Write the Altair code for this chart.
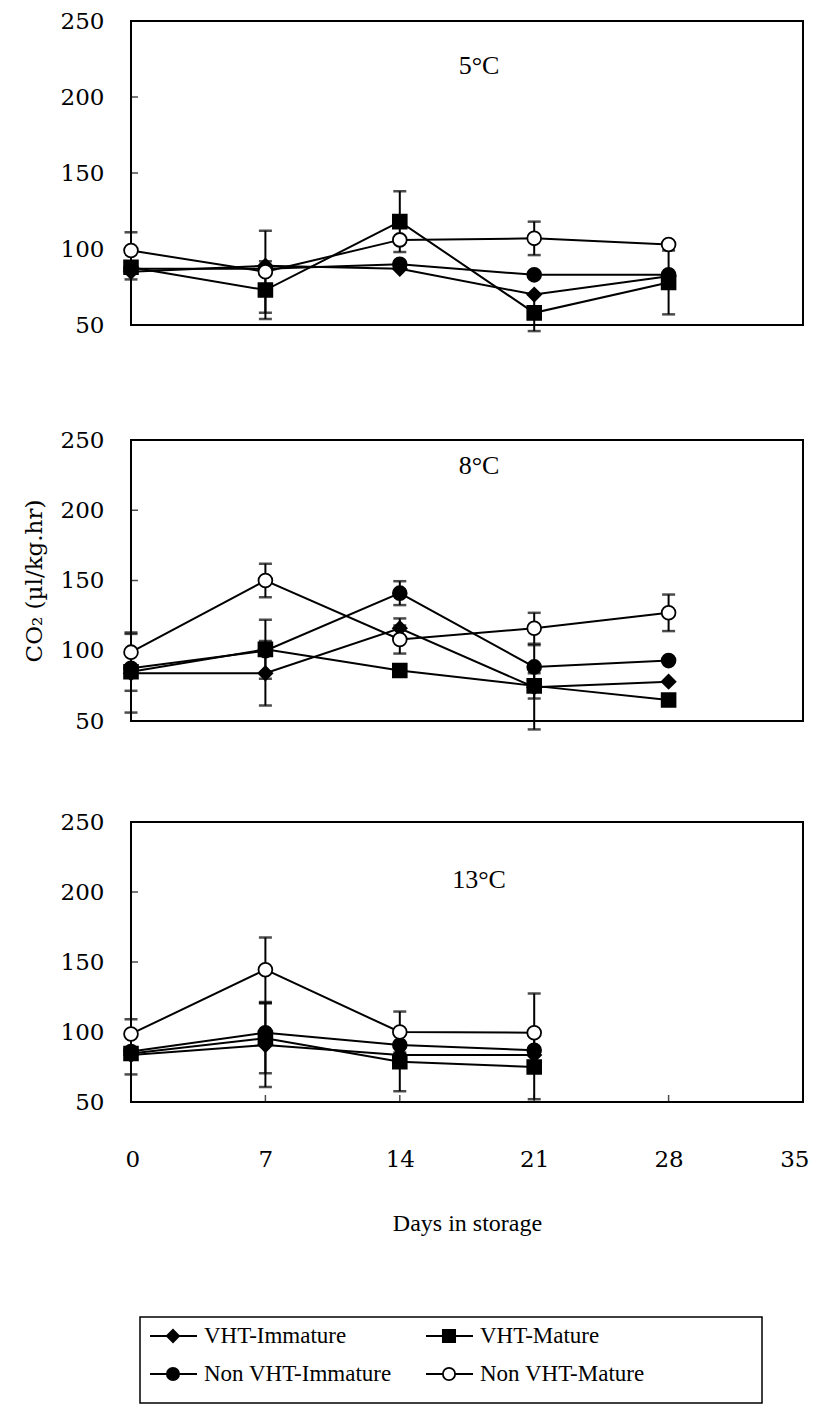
import altair as alt
import pandas as pd

# ---------------- data ----------------
days = [0, 7, 14, 21, 28]
x_ticks = [0, 7, 14, 21, 28, 35]
y_ticks = [50, 100, 150, 200, 250]
inner_y_ticks = [100, 150, 200]
inner_x_ticks = [7, 14, 21, 28]
series = ["VHT-Immature", "VHT-Mature", "Non VHT-Immature", "Non VHT-Mature"]
temps = ["5°C", "8°C", "13°C"]
shapes = ["diamond", "square", "circle", "circle"]
fills = ["black", "black", "black", "white"]

# 5 °C  (means, then SD)
vi_5 = [85, 89, 87, 70, 82]
vm_5 = [88, 73, 118, 58, 78]
ni_5 = [87, 87, 90, 83, 83]
nm_5 = [99, 85, 106, 107, 103]
vi_5_sd = [5, 0, 0, 0, 0]
vm_5_sd = [0, 19, 20, 12, 21]
ni_5_sd = [0, 0, 0, 0, 0]
nm_5_sd = [12, 27, 0, 11, 0]

# 8 °C
vi_8 = [84, 84, 116, 74, 78]
vm_8 = [85, 101, 86, 75, 65]
ni_8 = [87.5, 100, 141, 88.5, 93]
nm_8 = [99, 150, 108, 116, 127]
vi_8_sd = [28, 23, 7, 30, 0]
vm_8_sd = [13.5, 21, 0, 9, 0]
ni_8_sd = [0, 0, 8.5, 0, 0]
nm_8_sd = [14, 12, 10, 11, 13]

# 13 °C (days 0-21)
vi_13 = [83.5, 90.7, 83.5, 83.5]
vm_13 = [84.7, 95.5, 78.7, 75]
ni_13 = [86, 99.5, 90.7, 87]
nm_13 = [98.6, 144.5, 100, 99.5]
vi_13_sd = [0, 30, 0, 0]
vm_13_sd = [15, 25, 21, 23]
ni_13_sd = [0, 0, 0, 0]
nm_13_sd = [10.5, 23, 14.6, 28]

panel_means = {
    "5°C": [vi_5, vm_5, ni_5, nm_5],
    "8°C": [vi_8, vm_8, ni_8, nm_8],
    "13°C": [vi_13, vm_13, ni_13, nm_13],
}
panel_sds = {
    "5°C": [vi_5_sd, vm_5_sd, ni_5_sd, nm_5_sd],
    "8°C": [vi_8_sd, vm_8_sd, ni_8_sd, nm_8_sd],
    "13°C": [vi_13_sd, vm_13_sd, ni_13_sd, nm_13_sd],
}

rows = []
for t in temps:
    for s, mvals, svals in zip(series, panel_means[t], panel_sds[t]):
        for d, m, sd in zip(days, mvals, svals):
            rows.append({"temp": t, "series": s, "day": d, "value": m, "sd": sd,
                         "lo": m - sd, "hi": m + sd})
df = pd.DataFrame(rows)

# ---------------- layout / style ----------------
W = 672
plot_h = [304, 281, 280]
view_h = [318, 281, 280]
label_pos = [45, 26, 58]
SERIF_NUM = "DejaVu Serif"
SERIF_TXT = "Liberation Serif"

shape_scale = alt.Scale(domain=series, range=shapes)
fill_scale = alt.Scale(domain=series, range=fills)


def panel(i):
    t = temps[i]
    d = df[df.temp == t]
    err = d[d.sd > 0]
    caps = pd.concat([
        err[["series", "day", "lo"]].rename(columns={"lo": "v"}),
        err[["series", "day", "hi"]].rename(columns={"hi": "v"}),
    ])
    ph = plot_h[i]
    xs = alt.Scale(domain=[0, 35], nice=False)
    ys = alt.Scale(domain=[50, 250], range=[ph, 0], nice=False)
    if i == 2:
        x_axis = alt.Axis(values=x_ticks, labelFont=SERIF_NUM, labelFontSize=23,
                          labelColor="black", labelPadding=46, labelFlush=True,
                          labelFlushOffset=6,
                          ticks=False, domain=False, grid=False,
                          title="Days in storage",
                          titleFont=SERIF_TXT, titleFontSize=24,
                          titleFontWeight="normal", titleColor="black",
                          titlePadding=40)
    else:
        x_axis = None
    ytitle = "CO₂ (µl/kg.hr)" if i == 1 else ""
    y_axis = alt.Axis(values=y_ticks, labelFont=SERIF_NUM, labelFontSize=23,
                      labelColor="black", labelPadding=27, labelFlush=False,
                      ticks=False, domain=False, grid=False, title=ytitle,
                      titleFont=SERIF_NUM, titleFontSize=23,
                      titleFontWeight="normal", titleColor="black",
                      titlePadding=14)
    X = alt.X("day:Q", scale=xs, axis=x_axis)

    border = alt.Chart(pd.DataFrame({"k": [0]})).mark_rect(
        filled=False, stroke="black", strokeWidth=2
    ).encode(x=alt.value(0), x2=alt.value(W), y=alt.value(0), y2=alt.value(ph))

    yt = alt.Chart(pd.DataFrame({"v": inner_y_ticks})).mark_tick(
        orient="horizontal", size=7, thickness=1.5, color="black"
    ).encode(y=alt.Y("v:Q", scale=ys, axis=y_axis), x=alt.value(3.5))

    rules = alt.Chart(err).mark_rule(color="black", strokeWidth=2).encode(
        x=X, y=alt.Y("lo:Q", scale=ys, axis=y_axis), y2="hi:Q")
    capm = alt.Chart(caps).mark_tick(
        orient="horizontal", size=13, thickness=2.5, color="black"
    ).encode(x=X, y=alt.Y("v:Q", scale=ys, axis=y_axis))
    lines = alt.Chart(d).mark_line(color="black", strokeWidth=2).encode(
        x=X, y=alt.Y("value:Q", scale=ys, axis=y_axis), detail="series:N")
    pts = alt.Chart(d).mark_point(
        filled=True, size=190, stroke="black", strokeWidth=1.8, opacity=1
    ).encode(
        x=X, y=alt.Y("value:Q", scale=ys, axis=y_axis),
        shape=alt.Shape("series:N", scale=shape_scale, legend=None),
        fill=alt.Fill("series:N", scale=fill_scale, legend=None),
    )
    lab = alt.Chart(pd.DataFrame({"label": [t]})).mark_text(
        font=SERIF_TXT, fontSize=26, color="black", baseline="middle", align="center"
    ).encode(x=alt.value(348), y=alt.value(label_pos[i]), text="label:N")

    layers = [border, yt, rules, capm, lines, pts, lab]
    if i == 2:
        xt = alt.Chart(pd.DataFrame({"d": inner_x_ticks})).mark_tick(
            orient="vertical", size=7, thickness=1.5, color="black"
        ).encode(x=alt.X("d:Q", scale=xs, axis=x_axis), y=alt.value(ph - 3.5))
        layers.insert(2, xt)
    return alt.layer(*layers).properties(width=W, height=view_h[i])


# ---------------- legend ----------------
leg_df = pd.DataFrame({"series": series, "col": [0, 1, 0, 1], "row": [0, 0, 1, 1]})
lx = alt.X("col:Q", scale=alt.Scale(domain=[0, 1], range=[42, 318]), axis=None)
ly = alt.Y("row:Q", scale=alt.Scale(domain=[0, 1], range=[133, 171]), axis=None)

leg_box = alt.Chart(pd.DataFrame({"k": [0]})).mark_rect(
    filled=False, stroke="black", strokeWidth=1.5
).encode(x=alt.value(9), x2=alt.value(631), y=alt.value(114), y2=alt.value(200))
leg_line = alt.Chart(leg_df).mark_rule(
    color="black", strokeWidth=2, xOffset=-23, x2Offset=24
).encode(x=lx, x2="col:Q", y=ly)
leg_pts = alt.Chart(leg_df).mark_point(
    filled=True, size=150, stroke="black", strokeWidth=1.8, opacity=1
).encode(
    x=lx, y=ly,
    shape=alt.Shape("series:N", scale=shape_scale, legend=None),
    fill=alt.Fill("series:N", scale=fill_scale, legend=None),
)
leg_txt = alt.Chart(leg_df).mark_text(
    align="left", baseline="middle", dx=31, font=SERIF_TXT, fontSize=23, color="black"
).encode(x=lx, y=ly, text="series:N")
legend = alt.layer(leg_box, leg_line, leg_pts, leg_txt).properties(width=W, height=200)

chart = alt.vconcat(
    panel(0), panel(1), panel(2), legend, spacing=101, bounds="flush"
).resolve_scale(x="independent", y="independent").properties(
    padding={"left": 15, "top": 2, "right": 0, "bottom": 2},
    background="white",
).configure_view(strokeWidth=0)

chart.save("out.html", embed_options={"renderer": "svg", "actions": False})
